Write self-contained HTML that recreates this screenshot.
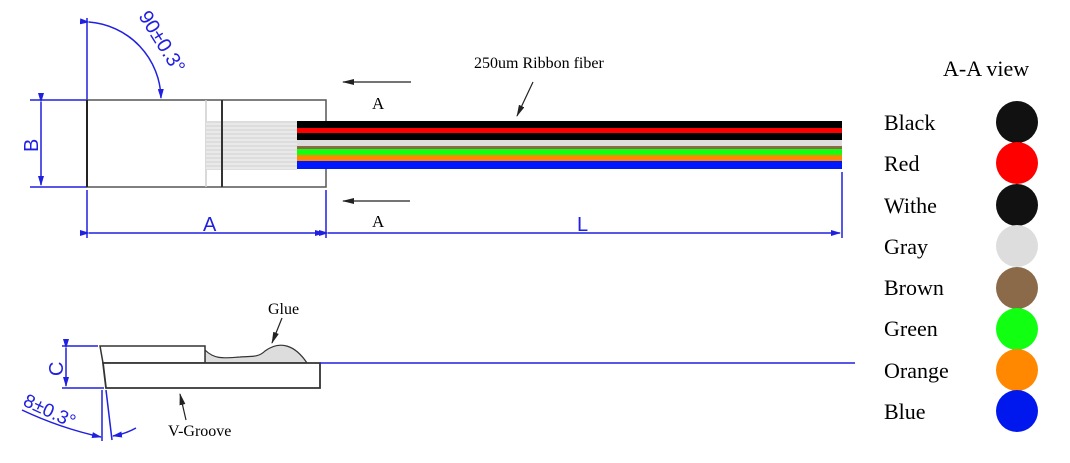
<!DOCTYPE html>
<html><head><style>
html,body{margin:0;padding:0;background:#fff;}
svg{display:block;}
.s{font-family:"Liberation Serif",serif;}
.b{font-family:"Liberation Sans",sans-serif;fill:#2020e0;}
</style></head><body>
<svg width="1070" height="463" viewBox="0 0 1070 463" xmlns="http://www.w3.org/2000/svg">
<defs>
<marker id="ab" markerWidth="10" markerHeight="6" refX="9" refY="3" orient="auto" markerUnits="userSpaceOnUse"><path d="M0,0 L10,3 L0,6 z" fill="#2020e0"/></marker>
<marker id="ak" markerWidth="12" markerHeight="6" refX="11" refY="3" orient="auto" markerUnits="userSpaceOnUse"><path d="M0,0 L12,3 L0,6 z" fill="#222"/></marker>
</defs>
<g stroke="#2020e0" stroke-width="1.5" fill="none">
<line x1="87" y1="18" x2="87" y2="100"/>
<path d="M89,22 A78,78 0 0 1 161,98" marker-start="url(#ab)" marker-end="url(#ab)"/>
<line x1="30" y1="100" x2="87" y2="100"/>
<line x1="30" y1="187" x2="87" y2="187"/>
<line x1="41" y1="102" x2="41" y2="185" marker-start="url(#ab)" marker-end="url(#ab)"/>
<line x1="87" y1="190" x2="87" y2="238"/>
<line x1="326" y1="190" x2="326" y2="238"/>
<line x1="842" y1="172" x2="842" y2="238"/>
<line x1="89" y1="233" x2="324" y2="233" marker-start="url(#ab)" marker-end="url(#ab)"/>
<line x1="328" y1="233" x2="840" y2="233" marker-start="url(#ab)" marker-end="url(#ab)"/>
</g>
<text class="b" font-size="20" transform="translate(138,16) rotate(58)">90±0.3°</text>
<text class="b" font-size="20" transform="translate(38,152) rotate(-90)">B</text>
<text class="b" font-size="20" x="203" y="231">A</text>
<text class="b" font-size="20" x="577" y="231">L</text>
<rect x="87" y="100" width="239" height="87" fill="none" stroke="#555" stroke-width="1.5"/>
<line x1="87" y1="100" x2="87" y2="187" stroke="#222" stroke-width="2"/>
<line x1="206" y1="100" x2="206" y2="187" stroke="#ccc" stroke-width="1.5"/>
<line x1="222" y1="100" x2="222" y2="187" stroke="#333" stroke-width="2"/>
<g fill="#ddd"><rect x="206" y="121" width="91" height="49"/></g>
<g stroke="#f5f5f5" stroke-width="1">
<line x1="206" y1="124" x2="297" y2="124"/><line x1="206" y1="128" x2="297" y2="128"/><line x1="206" y1="132" x2="297" y2="132"/><line x1="206" y1="136" x2="297" y2="136"/><line x1="206" y1="140" x2="297" y2="140"/><line x1="206" y1="144" x2="297" y2="144"/><line x1="206" y1="148" x2="297" y2="148"/><line x1="206" y1="152" x2="297" y2="152"/><line x1="206" y1="156" x2="297" y2="156"/><line x1="206" y1="160" x2="297" y2="160"/><line x1="206" y1="164" x2="297" y2="164"/><line x1="206" y1="168" x2="297" y2="168"/>
</g>
<line x1="222" y1="121" x2="222" y2="170" stroke="#333" stroke-width="2"/>
<rect x="297" y="121" width="545" height="7" fill="#000"/>
<rect x="297" y="128" width="545" height="5" fill="#f00"/>
<rect x="297" y="133" width="545" height="7" fill="#000"/>
<rect x="297" y="140" width="545" height="6" fill="#ddd"/>
<rect x="297" y="146" width="545" height="3" fill="#8b6a45"/>
<rect x="297" y="149" width="545" height="6" fill="#1f1"/>
<rect x="297" y="155" width="545" height="6" fill="#f80"/>
<rect x="297" y="161" width="545" height="8" fill="#0018ff"/>
<line x1="411" y1="82" x2="343" y2="82" stroke="#222" stroke-width="1.2" marker-end="url(#ak)"/>
<line x1="410" y1="201" x2="343" y2="201" stroke="#222" stroke-width="1.2" marker-end="url(#ak)"/>
<text class="s" font-size="17" x="372" y="109">A</text>
<text class="s" font-size="17" x="372" y="227">A</text>
<text class="s" font-size="16" x="474" y="68">250um Ribbon fiber</text>
<line x1="533" y1="82" x2="517" y2="116" stroke="#222" stroke-width="1.2" marker-end="url(#ak)"/>
<path d="M205,350 C215,360 225,358 240,357 C250,356 258,358 265,351 C280,340 295,345 307,363 L205,363 Z" fill="#ddd" stroke="#333" stroke-width="1.2"/>
<polygon points="100,346 205,346 205,363 103,363" fill="#fff" stroke="#333" stroke-width="1.5"/>
<polygon points="103,363 320,363 320,388 106,388" fill="#fff" stroke="#333" stroke-width="1.8"/>
<line x1="320" y1="363" x2="855" y2="363" stroke="#2020e0" stroke-width="1.5"/>
<g stroke="#2020e0" stroke-width="1.5" fill="none">
<line x1="62" y1="346" x2="98" y2="346"/>
<line x1="62" y1="388" x2="104" y2="388"/>
<line x1="66" y1="348" x2="66" y2="386" marker-start="url(#ab)" marker-end="url(#ab)"/>
<line x1="102" y1="390" x2="102" y2="441"/>
<line x1="106" y1="390" x2="112" y2="440"/>
<path d="M22,410 Q60,428 101,437" marker-end="url(#ab)"/>
<path d="M136,428 Q125,434 113,436" marker-end="url(#ab)"/>
</g>
<text class="b" font-size="20" transform="translate(63,376) rotate(-90)">C</text>
<text class="b" font-size="19" transform="translate(22,405) rotate(25)">8±0.3°</text>
<text class="s" font-size="16" x="268" y="314">Glue</text>
<line x1="282" y1="318" x2="272" y2="343" stroke="#222" stroke-width="1.2" marker-end="url(#ak)"/>
<text class="s" font-size="16" x="168" y="436">V-Groove</text>
<line x1="186" y1="420" x2="180" y2="394" stroke="#222" stroke-width="1.2" marker-end="url(#ak)"/>
<text class="s" font-size="22" x="943" y="76">A-A view</text>
<g class="s" font-size="22">
<text x="884" y="130">Black</text>
<text x="884" y="171">Red</text>
<text x="884" y="213">Withe</text>
<text x="884" y="254">Gray</text>
<text x="884" y="295">Brown</text>
<text x="884" y="336">Green</text>
<text x="884" y="378">Orange</text>
<text x="884" y="419">Blue</text>
</g>
<circle cx="1017" cy="122" r="21" fill="#111"/>
<circle cx="1017" cy="163" r="21" fill="#f00"/>
<circle cx="1017" cy="205" r="21" fill="#111"/>
<circle cx="1017" cy="246" r="21" fill="#ddd"/>
<circle cx="1017" cy="288" r="21" fill="#8b6a4a"/>
<circle cx="1017" cy="329" r="21" fill="#1f1"/>
<circle cx="1017" cy="370" r="21" fill="#f80"/>
<circle cx="1017" cy="411" r="21" fill="#0018ee"/>
</svg>
</body></html>
